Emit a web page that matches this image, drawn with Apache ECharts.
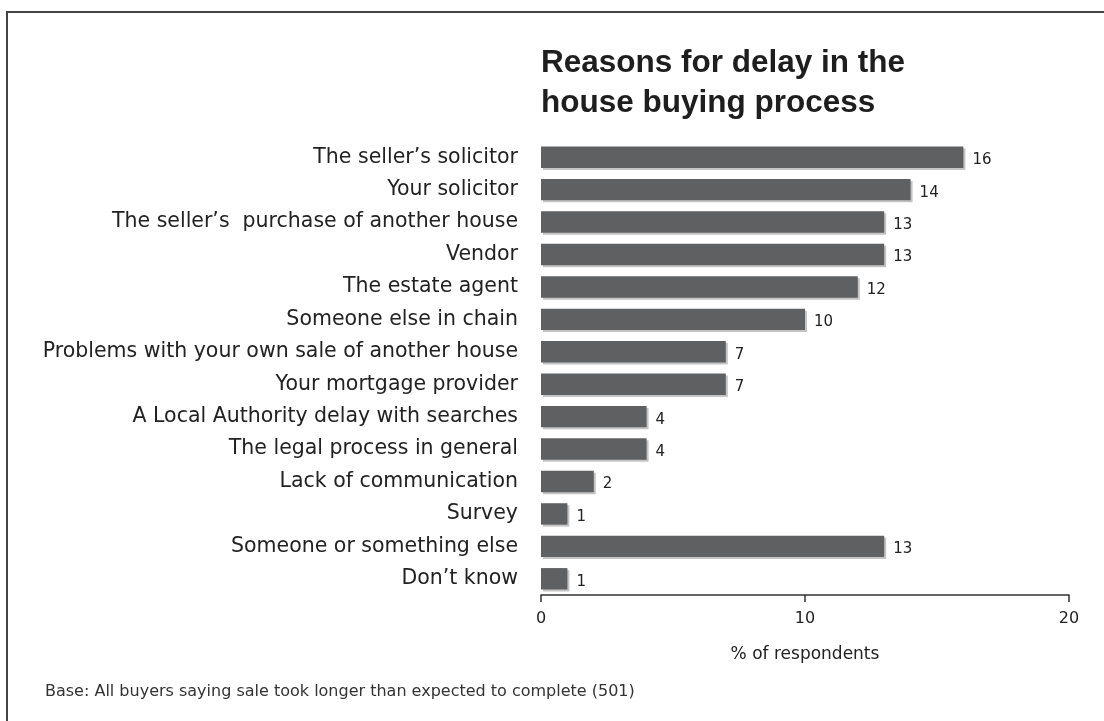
<!DOCTYPE html>
<html>
<head>
<meta charset="utf-8">
<script src="https://cdn.jsdelivr.net/npm/echarts@6/dist/echarts.min.js"></script>
<style>
  html, body { margin: 0; padding: 0; background: #fff; }
  #chart { width: 1104px; height: 721px; }
</style>
</head>
<body>
<div id="chart"></div>
<script>
// Reasons given for delays while buying a house (% of respondents)
const categories = [
  'The seller\u2019s solicitor',
  'Your solicitor',
  'The seller\u2019s  purchase of another house',
  'Vendor',
  'The estate agent',
  'Someone else in chain',
  'Problems with your own sale of another house',
  'Your mortgage provider',
  'A Local Authority delay with searches',
  'The legal process in general',
  'Lack of communication',
  'Survey',
  'Someone or something else',
  'Don\u2019t know'
];
const values = [16, 14, 13, 13, 12, 10, 7, 7, 4, 4, 2, 1, 13, 1];
const xTicks = [0, 10, 20];

const titleLines = ['Reasons for delay in the', 'house buying process'];
const axisTitle = '% of respondents';
const footnote = 'Base: All buyers saying sale took longer than expected to complete (501)';

const TITLE_FONT = '"Liberation Sans", Arial, Helvetica, sans-serif';
const FONT = '"DejaVu Sans", Verdana, sans-serif';

const chart = echarts.init(document.getElementById('chart'), null, { renderer: 'canvas' });

chart.setOption({
  backgroundColor: '#ffffff',
  animation: false,
  textStyle: { fontFamily: FONT },
  title: {
    text: titleLines.join('\n'),
    left: 536,
    top: 38,
    textStyle: {
      fontFamily: TITLE_FONT,
      fontSize: 31.5,
      fontWeight: 'bold',
      color: '#1e1e1e',
      lineHeight: 40
    }
  },
  grid: { left: 541, right: 35, top: 141, height: 454, containLabel: false },
  xAxis: {
    type: 'value',
    min: xTicks[0],
    max: xTicks[xTicks.length - 1],
    interval: 10,
    name: axisTitle,
    nameLocation: 'middle',
    nameGap: 51,
    nameTextStyle: { fontFamily: FONT, fontSize: 17, color: '#222' },
    axisLine: { show: true, lineStyle: { color: '#333', width: 1.5 } },
    axisTick: { show: true, length: 7, lineStyle: { color: '#333', width: 1.5 } },
    axisLabel: { fontFamily: FONT, fontSize: 16, color: '#222', margin: 16 },
    splitLine: { show: false }
  },
  yAxis: {
    type: 'category',
    data: categories,
    inverse: true,
    axisLine: { show: false },
    axisTick: { show: false },
    axisLabel: { fontFamily: FONT, fontSize: 20.5, color: '#222', margin: 23 }
  },
  series: [{
    type: 'bar',
    data: values,
    barCategoryGap: '34%',
    itemStyle: {
      color: '#5f6062',
      shadowColor: '#c4c4c4',
      shadowOffsetX: 2,
      shadowOffsetY: 2,
      shadowBlur: 0
    },
    label: {
      show: true,
      position: 'right',
      distance: 9,
      fontFamily: FONT,
      fontSize: 15,
      color: '#222',
      offset: [0, 3]
    }
  }],
  graphic: [
    {
      type: 'polyline',
      shape: { points: [[7, 721], [7, 12], [1104, 12]] },
      style: { stroke: '#444', lineWidth: 2, fill: null }
    },
    {
      type: 'text',
      left: 45,
      top: 684,
      style: { text: footnote, fontFamily: FONT, fontSize: 16, fill: '#333' }
    }
  ]
});
</script>
</body>
</html>
